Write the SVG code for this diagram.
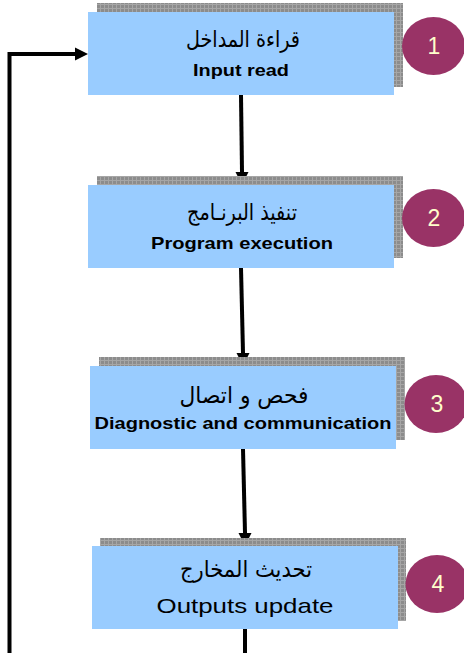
<svg xmlns="http://www.w3.org/2000/svg" width="464" height="653" viewBox="0 0 464 653">
  <defs>
    <!-- fine grid texture for the drop shadows -->
    <pattern id="grid" width="4" height="4" patternUnits="userSpaceOnUse">
      <rect width="4" height="4" fill="#8c8c8c"/>
      <path d="M0 0.5H4M0.5 0V4" stroke="#a6a6a6" stroke-width="1"/>
    </pattern>
    <style>
      .shadow { fill: url(#grid); }
      .box { fill: #99ccff; }
      .badge { fill: #993366; }
      .num { font-family: "Liberation Sans", Arial, sans-serif; font-size: 23px; fill: #ffffcc; text-anchor: middle; }
      .ar { font-family: "DejaVu Sans", "Liberation Sans", sans-serif; font-size: 23px; fill: #000; text-anchor: middle; }
      .en { font-family: "Liberation Sans", Arial, sans-serif; font-size: 17px; font-weight: bold; fill: #000; text-anchor: middle; }
      .en2 { font-family: "Liberation Sans", Arial, sans-serif; font-size: 21px; fill: #000; text-anchor: middle; }
      .wire { stroke: #000; stroke-width: 4; fill: none; }
      .tip { fill: #000; }
    </style>
  </defs>

  <g id="connectors">
    <path class="wire" d="M9.5 653V54H75"/>
    <path class="tip" d="M75 47.5L88 54L75 60.5Z"/>
    <line class="wire" x1="241" y1="95" x2="242" y2="172"/>
    <path class="tip" d="M235.5 172L248.5 172L242 185Z"/>
    <line class="wire" x1="241" y1="268" x2="243" y2="353"/>
    <path class="tip" d="M236.5 353L249.5 353L243 366Z"/>
    <line class="wire" x1="243" y1="449" x2="245" y2="533"/>
    <path class="tip" d="M238.5 533L251.5 533L245 546Z"/>
    <line class="wire" x1="245" y1="629" x2="245" y2="653"/>
  </g>

  <g id="node1">
    <rect class="shadow" x="97" y="3" width="306" height="84"/>
    <rect class="box" x="88" y="12" width="306" height="83"/>
    <text class="ar" x="243" y="47" textLength="114" lengthAdjust="spacingAndGlyphs">قراءة المداخل</text>
    <text class="en" x="241" y="76" textLength="96" lengthAdjust="spacingAndGlyphs">Input read</text>
  </g>
  <g id="badge1">
    <ellipse class="badge" cx="433.5" cy="46" rx="31.5" ry="29"/>
    <text class="num" x="434" y="54">1</text>
  </g>

  <g id="node2">
    <rect class="shadow" x="97" y="176" width="306" height="82"/>
    <rect class="box" x="88" y="185" width="306" height="83"/>
    <text class="ar" x="242" y="220" textLength="110" lengthAdjust="spacingAndGlyphs">تنفيذ البرنـامج</text>
    <text class="en" x="242" y="249" textLength="182" lengthAdjust="spacingAndGlyphs">Program execution</text>
  </g>
  <g id="badge2">
    <ellipse class="badge" cx="433.5" cy="218" rx="31.5" ry="29"/>
    <text class="num" x="434" y="226">2</text>
  </g>

  <g id="node3">
    <rect class="shadow" x="99" y="357" width="306" height="83"/>
    <rect class="box" x="90" y="366" width="306" height="83"/>
    <text class="ar" x="244" y="403" textLength="129" lengthAdjust="spacingAndGlyphs">فحص و اتصال</text>
    <text class="en" x="243" y="429" textLength="297" lengthAdjust="spacingAndGlyphs">Diagnostic and communication</text>
  </g>
  <g id="badge3">
    <ellipse class="badge" cx="436" cy="404" rx="31.5" ry="29"/>
    <text class="num" x="437" y="412">3</text>
  </g>

  <g id="node4">
    <rect class="shadow" x="100" y="538" width="306" height="83"/>
    <rect class="box" x="92" y="546" width="306" height="83"/>
    <text class="ar" x="246" y="577" textLength="132" lengthAdjust="spacingAndGlyphs">تحديث المخارج</text>
    <text class="en2" x="245" y="613" textLength="177" lengthAdjust="spacingAndGlyphs">Outputs update</text>
  </g>
  <g id="badge4">
    <ellipse class="badge" cx="437" cy="584" rx="31.5" ry="29"/>
    <text class="num" x="438" y="592">4</text>
  </g>
</svg>
